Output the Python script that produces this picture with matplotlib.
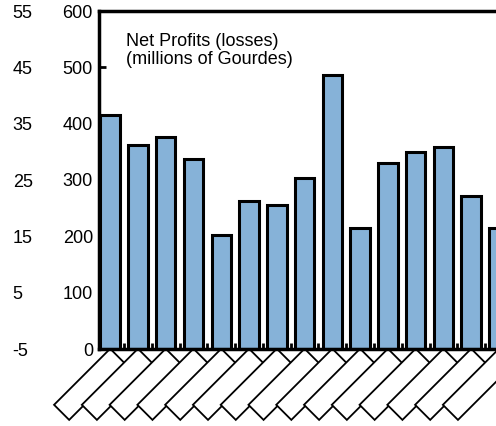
import numpy as np
import matplotlib.pyplot as plt

plt.rcParams['font.family'] = ['Liberation Sans', 'DejaVu Sans']
plt.rcParams['axes.unicode_minus'] = False

# net profits, millions of gourdes (15 periods visible in the crop)
profits = [415, 363, 376, 338, 203, 263, 255, 304, 486, 215, 331, 349, 358, 272, 214]
# category labels are blank in the source, only their frames show
categories = [' ' * 15] * len(profits)
left_ticks = [0, 100, 200, 300, 400, 500, 600]
# right axis of the neighbouring (cropped) panel
side_ticks = [-5, 5, 15, 25, 35, 45, 55]

W, H = 496, 426
fig = plt.figure(figsize=(W / 100, H / 100), dpi=100)

x0, ytop, ybot = 98.5, 11, 349
pitch = 26.9
xlo = -0.42
n_slots = len(profits) + 0.5
ax = fig.add_axes([x0 / W, (H - ybot) / H, (n_slots - xlo) * pitch / W, (ybot - ytop) / H])

x = np.arange(len(profits))
ax.bar(x, profits, width=0.7, color='#86B2D8', edgecolor='black', linewidth=2.2, zorder=2)

ax.set_xlim(xlo, len(profits))
ax.set_ylim(0, 600)
ax.set_yticks(left_ticks)
ax.tick_params(axis='y', direction='in', length=5, width=2, labelsize=13, pad=4)

ax.set_xticks(x)
ax.set_xticklabels(categories, rotation=45, ha='right', rotation_mode='anchor',
                   fontsize=13,
                   bbox=dict(boxstyle='square,pad=0.12', fc='white', ec='black', lw=1.3))
ax.set_xticks(x[:-1] + 0.5, minor=True)
ax.tick_params(axis='x', which='major', length=0, pad=2)
ax.tick_params(axis='x', which='minor', direction='in', length=4, width=2)

for s in ['left', 'top', 'bottom', 'right']:
    ax.spines[s].set_linewidth(2.5)

fig.text(126 / W, 1 - 33 / H, 'Net Profits (losses)\n(millions of Gourdes)',
         fontsize=13, va='top', ha='left', linespacing=1.05)

# neighbouring panel's right axis, mostly off the figure
ax2 = fig.add_axes([-0.3, (H - ybot) / H, 0.3 + 3 / W, (ybot - ytop) / H])
ax2.set_ylim(-5, 55)
ax2.set_yticks(side_ticks)
ax2.yaxis.tick_right()
ax2.tick_params(axis='y', length=0, labelsize=13, pad=7)
ax2.set_xticks([])
for s in ax2.spines.values():
    s.set_visible(False)
ax2.patch.set_visible(False)

fig.savefig('out.png', dpi=100)
